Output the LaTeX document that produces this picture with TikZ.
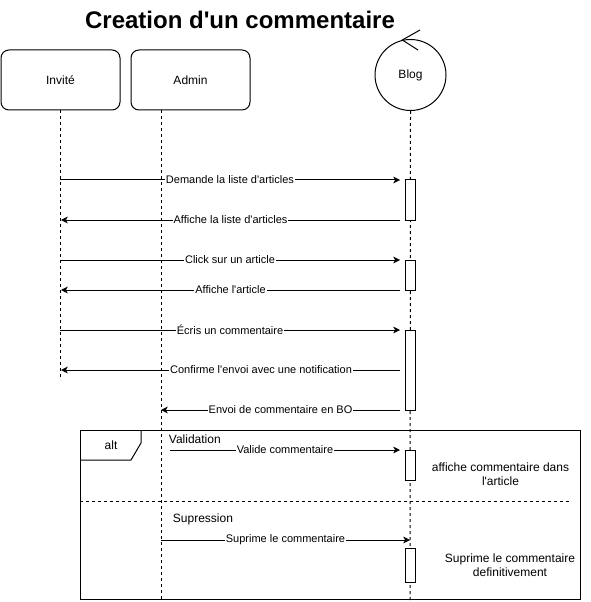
\documentclass[tikz,border=0pt]{standalone}
\usepackage{fontspec}
\setmainfont{Liberation Sans}[Ligatures=TeXOff]
\usetikzlibrary{arrows.meta}

\tikzset{
  actorbox/.style={draw, rounded corners=6pt, minimum width=89.25pt, minimum height=45pt, font=\fontsize{9}{11}\selectfont},
  ctrlbox/.style={draw, circle, minimum size=53.25pt, inner sep=0pt, font=\fontsize{9}{11}\selectfont},
  lifeline/.style={dash pattern=on 2.25pt off 2.25pt},
  activation/.style={draw, fill=white, minimum width=7.5pt, inner sep=0pt},
  msg/.style={-{Stealth[length=5pt,width=5pt,inset=1.3pt]}},
  msglabel/.style={fill=white, inner sep=0.8pt, font=\fontsize{8.25}{10}\selectfont},
  note/.style={align=center, font=\fontsize{9}{10.7}\selectfont},
}

\begin{document}
\begin{tikzpicture}[x=0.75pt, y=-0.75pt, line width=0.75pt]
    \useasboundingbox (0,0) rectangle (591,602);

    % Title
    \node[font=\bfseries\fontsize{18}{22}\selectfont] (title) at (240,20) {Creation d'un commentaire};

    % Participants
    \node[actorbox] (invite) at (60.5,80) {Invité};
    \node[actorbox] (admin) at (190.5,80) {Admin};
    \node[ctrlbox] (blog) at (410.5,75) {Blog};
    \draw (420,30) -- (402.3,40) -- (418,50);

    % Lifelines
    \coordinate (invtop) at (60,110);
    \coordinate (invbot) at (60,380);
    \coordinate (admtop) at (161,110);
    \coordinate (admbot) at (161,600);
    \coordinate (blogbot) at (410,600);
    \draw[lifeline] (invtop) -- (invbot);
    \draw[lifeline] (admtop) -- (admbot);
    \draw[lifeline] (blog.south) -- (blogbot);

    % Activations on Blog
    \node[activation, minimum height=30pt] (act1) at (410,200) {};
    \node[activation, minimum height=22.5pt] (act2) at (410,275) {};
    \node[activation, minimum height=60pt] (act3) at (410,370) {};
    \node[activation, minimum height=22.5pt] (act4) at (410,465) {};
    \node[activation, minimum height=25.5pt] (act5) at (410,565) {};

    % Messages
    \coordinate (m1a) at (60,180);  \coordinate (m1b) at (400,180);
    \coordinate (m2a) at (400,220); \coordinate (m2b) at (61,220);
    \coordinate (m3a) at (60,260);  \coordinate (m3b) at (400,260);
    \coordinate (m4a) at (400,290); \coordinate (m4b) at (61,290);
    \coordinate (m5a) at (60,330);  \coordinate (m5b) at (400,330);
    \coordinate (m6a) at (400,370); \coordinate (m6b) at (61,370);
    \coordinate (m7a) at (400,410); \coordinate (m7b) at (161,410);
    \draw[msg] (m1a) -- node[msglabel] {Demande la liste d'articles} (m1b);
    \draw[msg] (m2a) -- node[msglabel] {Affiche la liste d'articles} (m2b);
    \draw[msg] (m3a) -- node[msglabel] {Click sur un article} (m3b);
    \draw[msg] (m4a) -- node[msglabel] {Affiche l'article} (m4b);
    \draw[msg] (m5a) -- node[msglabel] {Écris un commentaire} (m5b);
    \draw[msg] (m6a) -- node[msglabel, pos=0.41] {Confirme l'envoi avec une notification} (m6b);
    \draw[msg] (m7a) -- node[msglabel] {Envoi de commentaire en BO} (m7b);

    % Alt fragment
    \draw (80,430) rectangle (580,599);
    \draw (80,460) -- (131,460) -- (141,443) -- (141,430);
    \node[font=\fontsize{9}{11}\selectfont] (alt) at (111,445) {alt};
    \draw[lifeline] (80,501) -- (570,501);

    % Validation branch
    \node[anchor=west, font=\fontsize{9}{11}\selectfont] (valid) at (164,439) {Validation};
    \coordinate (m8a) at (170,450); \coordinate (m8b) at (400,450);
    \draw[msg] (m8a) -- node[msglabel] {Valide commentaire} (m8b);
    \node[note] (noteval) at (500.5,474) {affiche commentaire dans\\l'article};

    % Suppression branch
    \node[anchor=west, font=\fontsize{9}{11}\selectfont] (supp) at (168,519) {Supression};
    \coordinate (m9a) at (161,540); \coordinate (m9b) at (410,540);
    \draw[msg] (m9a) -- node[msglabel] {Suprime le commentaire} (m9b);
    \node[note] (notesup) at (510,565) {Suprime le commentaire\\definitivement};
\end{tikzpicture}
\end{document}
